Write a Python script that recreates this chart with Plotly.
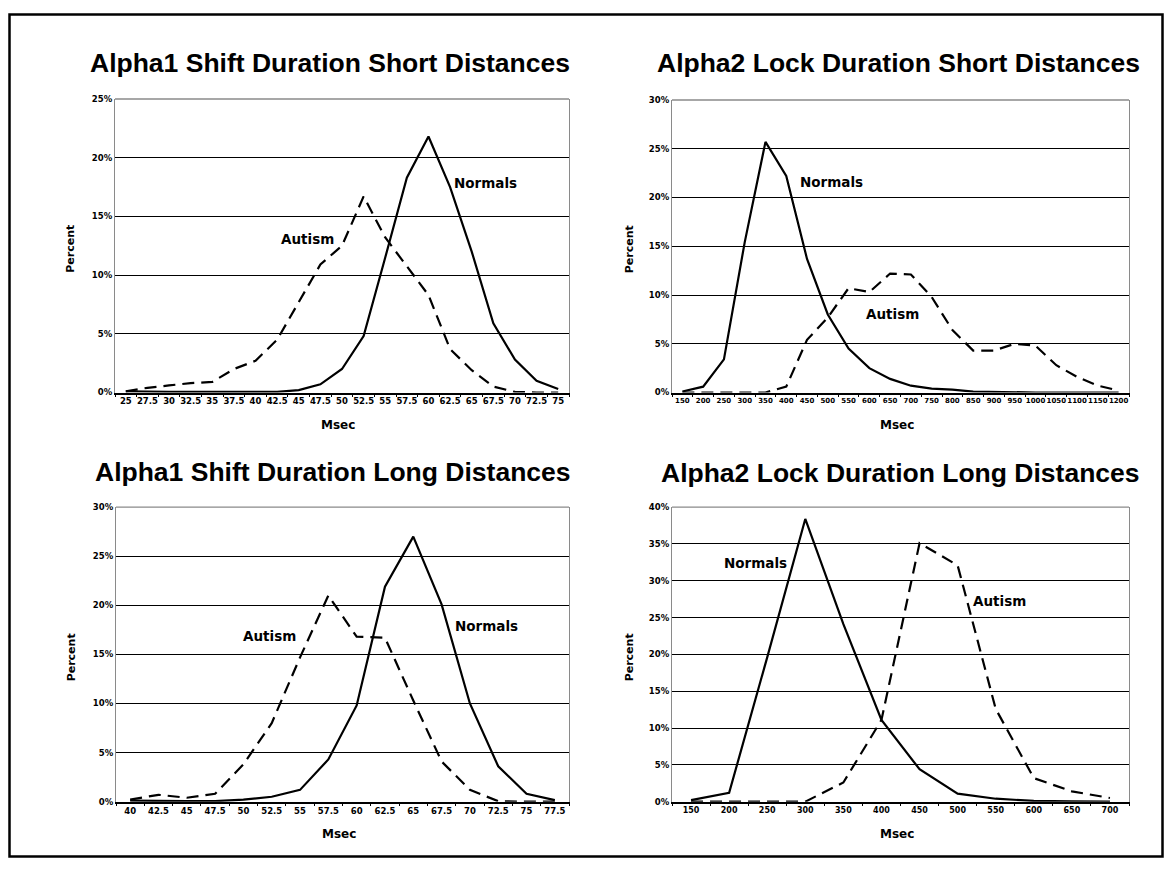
import plotly.graph_objects as go

# ---------------- data ----------------
p1_x = ["25", "27.5", "30", "32.5", "35", "37.5", "40", "42.5", "45", "47.5", "50",
        "52.5", "55", "57.5", "60", "62.5", "65", "67.5", "70", "72.5", "75"]
p1_normals = [0.1, 0.05, 0.05, 0.05, 0.05, 0.05, 0.05, 0.05, 0.2, 0.7, 2.0,
              4.8, 11.5, 18.3, 21.8, 17.5, 12.0, 5.9, 2.8, 1.0, 0.3]
p1_autism = [0.1, 0.4, 0.6, 0.8, 0.9, 2.0, 2.7, 4.5, 7.7, 10.9, 12.5,
             16.7, 13.2, 10.8, 8.3, 3.7, 1.9, 0.5, 0.05, 0.0, 0.0]

p2_x = ["150", "200", "250", "300", "350", "400", "450", "500", "550", "600", "650",
        "700", "750", "800", "850", "900", "950", "1000", "1050", "1100", "1150", "1200"]
p2_normals = [0.1, 0.6, 3.4, 15.4, 25.7, 22.2, 13.7, 8.0, 4.5, 2.5, 1.4,
              0.7, 0.4, 0.3, 0.1, 0.05, 0.05, 0.0, 0.0, 0.0, 0.0, 0.0]
p2_autism = [0.0, 0.0, 0.0, 0.0, 0.0, 0.6, 5.4, 7.7, 10.7, 10.3, 12.2,
             12.1, 9.8, 6.4, 4.3, 4.3, 5.0, 4.8, 2.8, 1.6, 0.7, 0.2]

p3_x = ["40", "42.5", "45", "47.5", "50", "52.5", "55", "57.5", "60", "62.5",
        "65", "67.5", "70", "72.5", "75", "77.5"]
p3_normals = [0.1, 0.05, 0.05, 0.05, 0.2, 0.5, 1.2, 4.3, 9.8, 21.9,
              27.0, 20.1, 10.0, 3.6, 0.8, 0.15]
p3_autism = [0.2, 0.7, 0.4, 0.8, 3.8, 8.0, 14.7, 21.0, 16.8, 16.7,
             10.3, 4.1, 1.2, 0.05, 0.0, 0.0]

p4_x = ["150", "200", "250", "300", "350", "400", "450", "500", "550", "600", "650", "700"]
p4_normals = [0.2, 1.2, 19.6, 38.4, 24.1, 11.1, 4.4, 1.1, 0.4, 0.1, 0.05, 0.0]
p4_autism = [0.0, 0.0, 0.0, 0.0, 2.6, 11.1, 35.1, 32.1, 12.6, 3.2, 1.4, 0.5]

titles = ["Alpha1 Shift Duration Short Distances", "Alpha2 Lock Duration Short Distances",
          "Alpha1 Shift Duration Long Distances", "Alpha2 Lock Duration Long Distances"]
y_max = [25, 30, 30, 40]

# ---------------- layout geometry ----------------
# page body has an 8px margin, so the figure is 16px smaller than the window
OFF = 8
W, H = 1172 - 2 * OFF, 871 - 2 * OFF
def px(v):
    return (v - OFF) / W
def py(v):
    return 1 - (v - OFF) / H

panels = [
    dict(x=p1_x, n=p1_normals, a=p1_autism, xd=(115, 569), yd=(95, 392), tfs=8.5,
         title_xy=(330, 59), nl=(0.817, 0.714), al=(0.425, 0.522), pct_x=71),
    dict(x=p2_x, n=p2_normals, a=p2_autism, xd=(672, 1129), yd=(96, 392), tfs=7,
         title_xy=(898, 59), nl=(0.349, 0.719), al=(0.483, 0.270), pct_x=629),
    dict(x=p3_x, n=p3_normals, a=p3_autism, xd=(116, 569), yd=(508, 806), tfs=8.5,
         title_xy=(333, 472), nl=(0.817, 0.597), al=(0.338, 0.564), pct_x=71),
    dict(x=p4_x, n=p4_normals, a=p4_autism, xd=(672, 1129), yd=(508, 806), tfs=8,
         title_xy=(900, 473), nl=(0.182, 0.812), al=(0.717, 0.681), pct_x=629),
]

fig = go.Figure()
annotations = []
shapes = []
tick_font = dict(family="DejaVu Sans", size=8.5, color="black", weight="bold")
lab_font = dict(family="DejaVu Sans", size=13.5, color="black", weight="bold")

for i, p in enumerate(panels):
    k = "" if i == 0 else str(i + 1)
    xa, ya = "x" + k, "y" + k
    fig.add_trace(go.Scatter(x=p["x"], y=p["n"], mode="lines", xaxis=xa, yaxis=ya,
                             line=dict(color="black", width=2.2), showlegend=False,
                             name="Normals"))
    fig.add_trace(go.Scatter(x=p["x"], y=p["a"], mode="lines", xaxis=xa, yaxis=ya,
                             line=dict(color="black", width=2.2, dash="12px,7px"),
                             showlegend=False, name="Autism"))
    ym = y_max[i]
    yt = list(range(0, ym + 1, 5))
    n = len(p["x"])
    fig.layout["xaxis" + k] = dict(
        domain=[px(p["xd"][0]), px(p["xd"][1])], anchor=ya, type="category",
        range=[-0.5, n - 0.5],
        showgrid=False, showline=True, linecolor="black", linewidth=1.5,
        ticks="outside", ticklen=3, tickcolor="black", tickson="boundaries",
        tickangle=0, tickfont=dict(tick_font, size=p["tfs"]), fixedrange=True)
    fig.layout["yaxis" + k] = dict(
        domain=[py(p["yd"][1]), py(p["yd"][0])], anchor=xa, range=[0, ym],
        tickmode="array", tickvals=yt, ticktext=[f"{v}%" for v in yt],
        showgrid=True, gridcolor="black", gridwidth=1.2, zeroline=False,
        showline=True, linecolor="#8a8a8a", linewidth=1.2, mirror=True,
        ticks="", tickfont=tick_font, fixedrange=True)
    # gray top border of the plot area
    shapes.append(dict(type="line", xref="paper", yref="paper",
                       x0=px(p["xd"][0]), x1=px(p["xd"][1]),
                       y0=py(p["yd"][0]), y1=py(p["yd"][0]),
                       line=dict(color="#8a8a8a", width=1.4)))
    # panel title
    annotations.append(dict(text=titles[i], xref="paper", yref="paper",
                            x=px(p["title_xy"][0]), y=py(p["title_xy"][1]),
                            xanchor="center", yanchor="middle", showarrow=False,
                            font=dict(family="Liberation Sans", size=26.5, color="black",
                                      weight="bold")))
    # axis titles
    annotations.append(dict(text="Percent", xref="paper", yref="paper",
                            x=px(p["pct_x"]), y=py((p["yd"][0] + p["yd"][1]) / 2 + 3),
                            xanchor="center", yanchor="middle", showarrow=False,
                            textangle=-90, font=dict(lab_font, size=11)))
    annotations.append(dict(text="Msec", xref="paper", yref="paper",
                            x=px((p["xd"][0] + p["xd"][1]) / 2 - 4),
                            y=py(p["yd"][1] + 33),
                            xanchor="center", yanchor="middle", showarrow=False,
                            font=dict(lab_font, size=12)))
    # series labels
    annotations.append(dict(text="Normals", xref=xa + " domain", yref=ya + " domain",
                            x=p["nl"][0], y=p["nl"][1], xanchor="center", yanchor="middle",
                            showarrow=False, font=lab_font))
    annotations.append(dict(text="Autism", xref=xa + " domain", yref=ya + " domain",
                            x=p["al"][0], y=p["al"][1], xanchor="center", yanchor="middle",
                            showarrow=False, font=lab_font))

# outer frame (kept inside the figure area)
shapes.append(dict(type="rect", xref="paper", yref="paper",
                   x0=px(9.5), x1=px(1162.5), y0=py(861.5), y1=py(9.5),
                   line=dict(color="black", width=2.5)))

fig.update_layout(width=W, height=H, margin=dict(l=0, r=0, t=0, b=0),
                  paper_bgcolor="white", plot_bgcolor="white",
                  annotations=annotations, shapes=shapes, showlegend=False)

fig.write_html("out.html")
